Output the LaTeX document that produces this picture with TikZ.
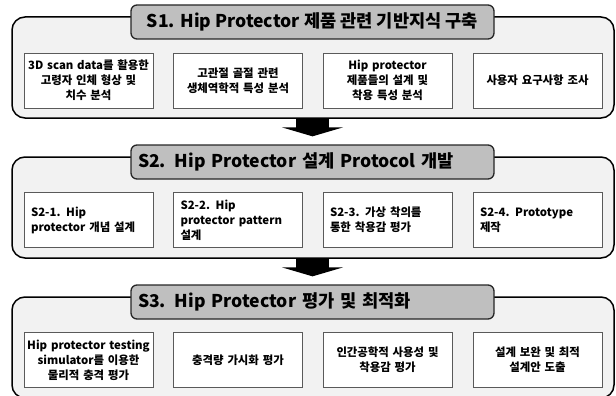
\documentclass[tikz,border=0pt]{standalone}
\usepackage{fontspec}
\setmainfont{Noto Sans CJK KR}
\usetikzlibrary{arrows.meta}
\definecolor{panelfill}{HTML}{F2F2F2}
\definecolor{titlefill}{HTML}{BFBFBF}
\definecolor{boxline}{HTML}{5A5A5A}
\tikzset{
  panel/.style={draw=black, line width=1.5pt, fill=panelfill, rounded corners=13pt},
  titlebox/.style={draw=black!85, line width=1.3pt, fill=titlefill, rounded corners=6pt,
    minimum width=363pt, minimum height=34pt, inner sep=0pt,
    font=\fontsize{17.6}{20}\selectfont\bfseries},
  itembox/.style={draw=boxline, line width=0.8pt, fill=white, minimum width=129pt,
    minimum height=55pt, inner sep=0pt, align=center, text width=127pt,
    font=\fontsize{11.4}{15}\selectfont\bfseries},
  leftbox/.style={itembox, align=left, text width=115pt},
  bigarrow/.style={line width=33pt, -{Triangle[width=61pt,length=9pt]}, shorten >=8pt}
}
\begin{document}
\begin{tikzpicture}[x=1pt,y=-1pt]
\useasboundingbox (0,0) rectangle (616,396);
% panels
\path[panel] (12,17) rectangle (614,118);
\path[panel] (12,157) rectangle (614,258);
\path[panel] (12,297) rectangle (614,398);
\coordinate (p1s) at (312.5,118);
\coordinate (p2s) at (312.5,258);
% titles
\node[titlebox] (t1) at (312.5,22) {S1. Hip Protector 제품 관련 기반지식 구축};
\node[titlebox, text width=349pt, align=left] (t2) at (312.5,162) {S2. Hip Protector 설계 Protocol 개발};
\node[titlebox, text width=349pt, align=left] (t3) at (312.5,302) {S3. Hip Protector 평가 및 최적화};
% S1 boxes
\node[itembox] (a1) at (88.5,80.5) {3D scan data를 활용한\\고령자 인체 형상 및\\치수 분석};
\node[itembox] (a2) at (238,80.5) {고관절 골절 관련\\생체역학적 특성 분석};
\node[itembox] (a3) at (387.5,80.5) {Hip protector\\제품들의 설계 및\\착용 특성 분석};
\node[itembox] (a4) at (537.5,80.5) {사용자 요구사항 조사};
% S2 boxes
\node[leftbox] (b1) at (88.5,220) {S2-1. Hip\\protector 개념 설계};
\node[leftbox] (b2) at (238,220) {S2-2. Hip\\protector pattern\\설계};
\node[leftbox] (b3) at (387.5,220) {S2-3. 가상 착의를\\통한 착용감 평가};
\node[leftbox] (b4) at (537.5,220) {S2-4. Prototype\\제작};
% S3 boxes
\node[itembox] (c1) at (88.5,360) {Hip protector testing\\simulator를 이용한\\물리적 충격 평가};
\node[itembox] (c2) at (238,360) {충격량 가시화 평가};
\node[itembox] (c3) at (387.5,360) {인간공학적 사용성 및\\착용감 평가};
\node[itembox] (c4) at (537.5,360) {설계 보완 및 최적\\설계안 도출};
% arrows
\draw[bigarrow] (p1s) -- (t2.north);
\draw[bigarrow] (p2s) -- (t3.north);
\end{tikzpicture}
\end{document}
